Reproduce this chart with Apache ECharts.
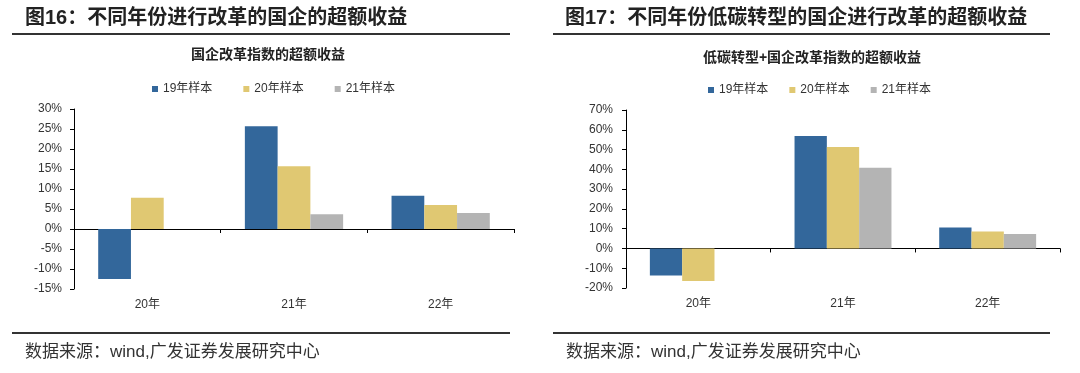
<!DOCTYPE html>
<html><head><meta charset="utf-8">
<script src="https://cdn.jsdelivr.net/npm/echarts/dist/echarts.min.js"></script>
<style>html,body{margin:0;padding:0;background:#fff}#c{width:1080px;height:373px}</style>
</head><body><div id="c"></div>
<script>
// ---- data ----
const categories = ['20年', '21年', '22年'];
const seriesNames = ['19年样本', '20年样本', '21年样本'];
const left19 = [-12.5, 25.7, 8.3];
const left20 = [7.8, 15.7, 6.0];
const left21 = [null, 3.7, 4.0];
const right19 = [-13.7, 56.9, 10.6];
const right20 = [-16.4, 51.3, 8.6];
const right21 = [null, 40.8, 7.3];
const leftTicks = { min: -15, max: 30, interval: 5 };
const rightTicks = { min: -20, max: 70, interval: 10 };
const leftTitle = '图16：不同年份进行改革的国企的超额收益';
const rightTitle = '图17：不同年份低碳转型的国企进行改革的超额收益';
const leftSub = '国企改革指数的超额收益';
const rightSub = '低碳转型+国企改革指数的超额收益';
const source = '数据来源：wind,广发证券发展研究中心';

const colors = ['#33679B', '#E0C872', '#B4B4B4'];
const FONT = '"Liberation Sans", Arial, "Noto Sans CJK SC", sans-serif';

const chart = echarts.init(document.getElementById('c'), null, { renderer: 'canvas' });

function xAxes(gi) {
  return [
    { gridIndex: gi, type: 'category', data: categories,
      axisLine: { show: true, onZero: true, lineStyle: { color: '#000', width: 1 } },
      axisTick: { show: true, length: 4, lineStyle: { color: '#000' } },
      axisLabel: { show: false }, splitLine: { show: false } },
    { gridIndex: gi, type: 'category', data: categories, position: 'bottom',
      axisLine: { show: false, onZero: false }, axisTick: { show: false },
      axisLabel: { show: true, margin: 10, fontSize: 12, color: '#333', fontFamily: FONT },
      splitLine: { show: false } }
  ];
}
function yAxis(gi, t, margin) {
  return { gridIndex: gi, type: 'value', min: t.min, max: t.max, interval: t.interval,
    axisLine: { show: true, lineStyle: { color: '#000', width: 1 } },
    axisTick: { show: true, length: 4, lineStyle: { color: '#000' } },
    axisLabel: { formatter: '{value}%', fontSize: 12, color: '#333', margin: margin, fontFamily: FONT },
    splitLine: { show: false } };
}
function bars(xi, yi, arrs) {
  return arrs.map((d, i) => ({
    type: 'bar', name: seriesNames[i], xAxisIndex: xi, yAxisIndex: yi, data: d,
    barGap: '0%', barCategoryGap: '33%',
    itemStyle: { color: colors[i] }, emphasis: { disabled: true }
  }));
}
function txt(x, y, text, size, weight, align, color) {
  return { type: 'text', x: x, y: y, silent: true,
    style: { text: text, fontSize: size, fontWeight: weight, fontFamily: FONT,
      fill: color, align: align, verticalAlign: 'middle' } };
}
function hline(x1, x2, y) {
  return { type: 'line', silent: true, shape: { x1: x1, y1: y, x2: x2, y2: y },
    style: { stroke: '#333', lineWidth: 2 } };
}

chart.setOption({
  animation: false,
  color: colors,
  grid: [
    { left: 74, top: 109, width: 440, height: 180 },
    { left: 626, top: 110, width: 434, height: 178 }
  ],
  xAxis: [...xAxes(0), ...xAxes(1)],
  yAxis: [yAxis(0, leftTicks, 12), yAxis(1, rightTicks, 13)],
  legend: [
    { data: seriesNames, left: 152, top: 83, padding: 0, icon: 'rect', itemWidth: 6, itemHeight: 6,
      itemGap: 31, textStyle: { fontSize: 12, color: '#333', fontFamily: FONT } },
    { data: seriesNames, left: 708, top: 84, padding: 0, icon: 'rect', itemWidth: 6, itemHeight: 6,
      itemGap: 21, textStyle: { fontSize: 12, color: '#333', fontFamily: FONT } }
  ],
  series: [...bars(0, 0, [left19, left20, left21]), ...bars(2, 1, [right19, right20, right21])],
  graphic: [
    txt(25, 18, leftTitle, 20, 'bold', 'left', '#222'),
    txt(565, 18, rightTitle, 20, 'bold', 'left', '#222'),
    hline(12, 510, 34), hline(553, 1050, 34),
    txt(268, 55, leftSub, 14, 'bold', 'center', '#222'),
    txt(812, 58, rightSub, 14, 'bold', 'center', '#222'),
    hline(12, 510, 333), hline(553, 1050, 333),
    txt(25, 352, source, 17, 'normal', 'left', '#333'),
    txt(566, 352, source, 17, 'normal', 'left', '#333')
  ]
});
</script></body></html>
